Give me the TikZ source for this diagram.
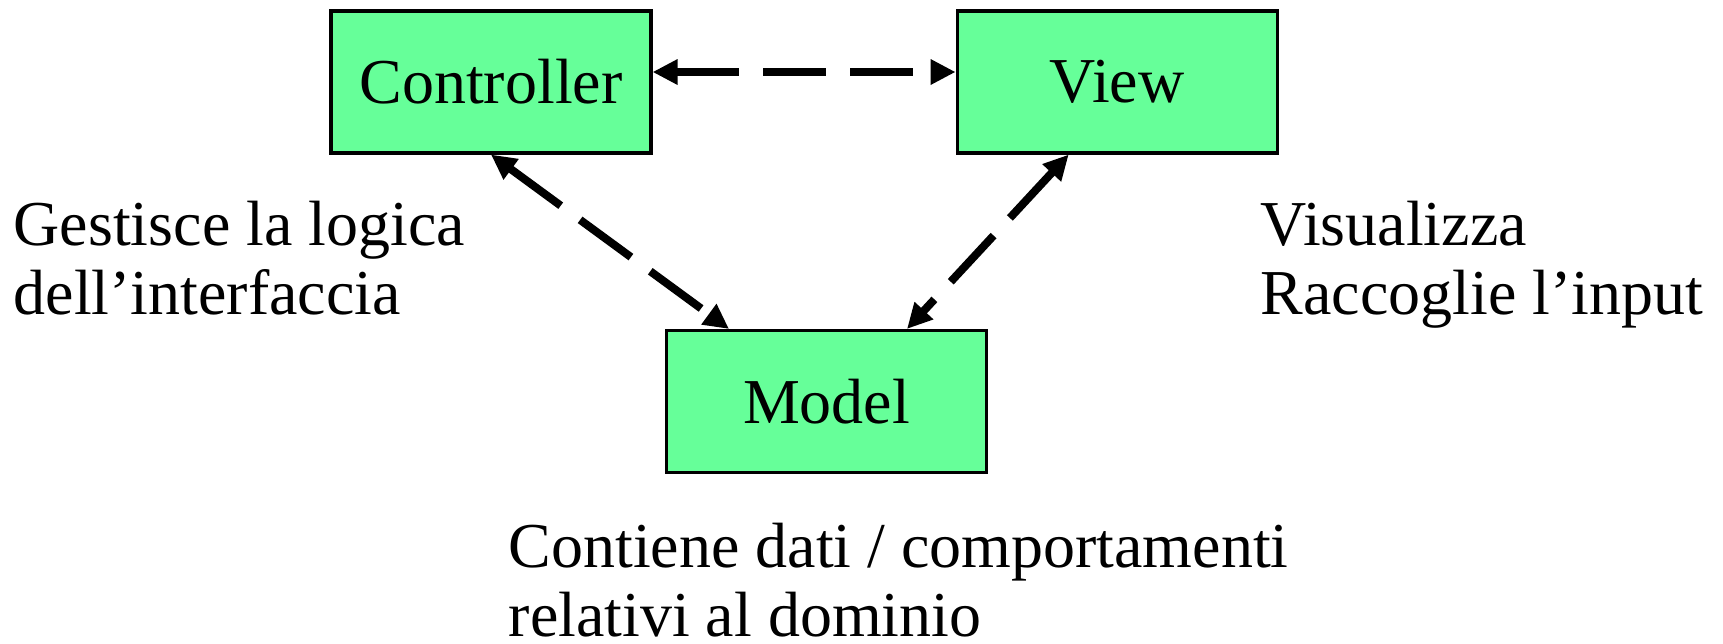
\documentclass[tikz,border=0pt]{standalone}
\usepackage{fontspec}
\setmainfont{Liberation Serif}
\usepackage{xcolor}
\usepackage{tikz}
\usetikzlibrary{
    positioning,
    arrows.meta
}
\definecolor{mvcgreen}{HTML}{66FF99}

\begin{document}
\begin{tikzpicture}[
      box/.style={draw, line width=0.9pt, fill=mvcgreen, minimum width=3.2cm, minimum height=1.42cm, inner sep=0pt, font=\fontsize{18.2}{19.6}\selectfont},
      note/.style={anchor=base west, inner sep=0pt, align=left, font=\fontsize{18.2}{19.6}\selectfont},
      link/.style={{Triangle[length=0.25cm, width=0.24cm]}-{Triangle[length=0.25cm, width=0.24cm]}, line width=0.08cm, dash pattern=on 0.63cm off 0.24cm}
    ]
    \useasboundingbox (0,0) rectangle (17.23,-6.43);

    \node[box] (ctrl) at (4.91,-0.82) {Controller};
    \node[box, right=3.03cm of ctrl] (view) {View};
    \node[box] (model) at (8.265,-4.015) {Model};

    \node[note] (ctrlnote) at (0.13,-3.14) {Gestisce la logica\\dell’interfaccia};
    \node[note] (viewnote) at (12.60,-3.14) {Visualizza\\Raccoglie l’input};
    \node[note] (modelnote) at (5.08,-6.36) {Contiene dati / comportamenti\\relativi al dominio};

    \draw[link] ([yshift=1mm]ctrl.east) -- ([yshift=1mm]view.west);
    \draw[link] (ctrl.south) -- ([xshift=-0.975cm]model.north);
    \draw[link] ([xshift=-0.485cm]view.south) -- ([xshift=0.805cm]model.north);
  \end{tikzpicture}
\end{document}
